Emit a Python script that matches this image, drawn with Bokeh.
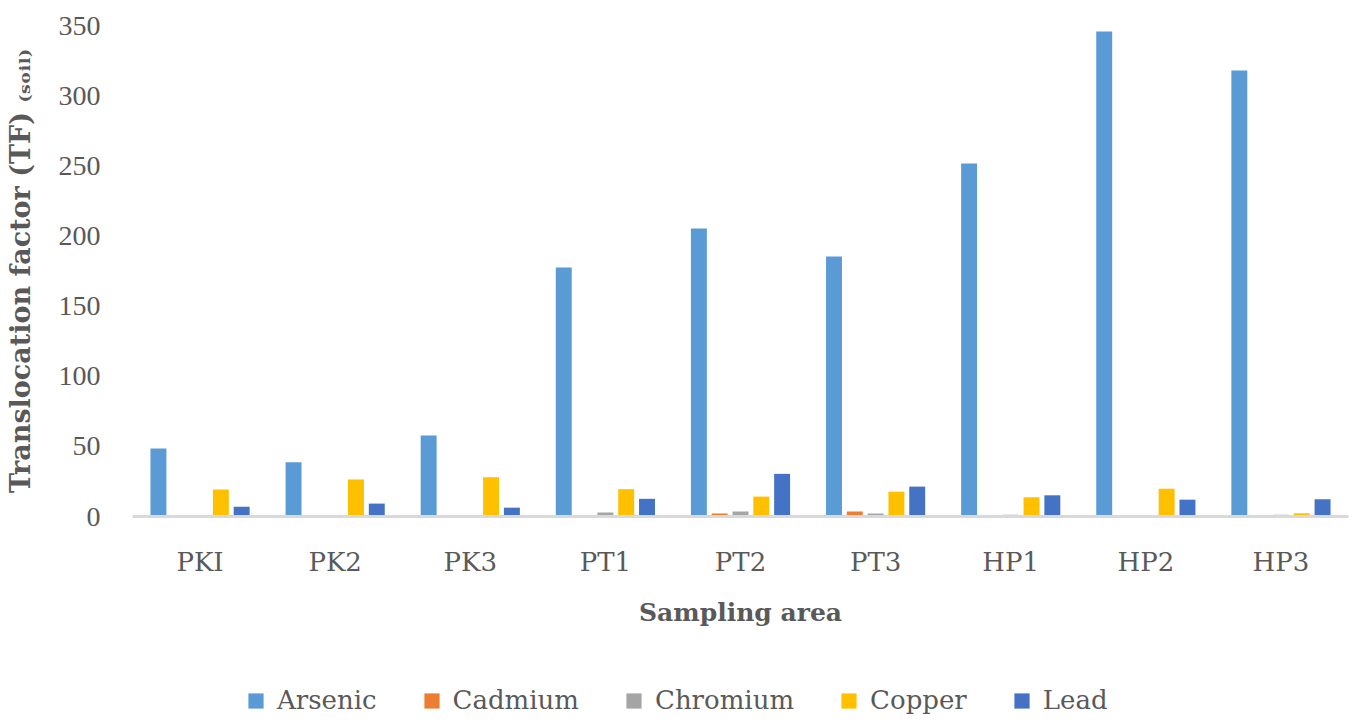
from bokeh.plotting import figure
from bokeh.models import (FactorRange, Range1d, FixedTicker, Legend, LegendItem,
                          ColumnDataSource, BoxAnnotation)
from bokeh.transform import dodge
from bokeh.layouts import column
from bokeh.embed import file_html
from bokeh.resources import INLINE

categories = ["PKI", "PK2", "PK3", "PT1", "PT2", "PT3", "HP1", "HP2", "HP3"]
series_names = ["Arsenic", "Cadmium", "Chromium", "Copper", "Lead"]
arsenic = [48.5, 38.7, 57.7, 177.5, 205.3, 185.3, 251.6, 345.7, 317.9]
cadmium = [0.1, 0.1, 0.1, 1.0, 2.1, 3.6, 0.9, 0.7, 0.7]
chromium = [0.6, 0.6, 0.5, 2.9, 3.6, 2.1, 1.2, 0.5, 1.2]
copper = [19.3, 26.4, 28.0, 19.5, 14.2, 17.7, 13.7, 19.8, 2.4]
lead = [6.9, 9.2, 6.3, 12.6, 30.4, 21.3, 15.1, 12.0, 12.3]
y_ticks = [0, 50, 100, 150, 200, 250, 300, 350]

colors = ["#5B9BD5", "#ED7D31", "#A5A5A5", "#FFC000", "#4472C4"]
TEXT = "#595959"
FONT = "DejaVu Serif"
NUMFONT = "Liberation Serif"

source = ColumnDataSource(dict(cat=categories, Arsenic=arsenic, Cadmium=cadmium,
                               Chromium=chromium, Copper=copper, Lead=lead))

p = figure(x_range=FactorRange(*categories), y_range=Range1d(0, 350),
           width=1350, height=650, output_backend="svg", toolbar_location=None,
           min_border_left=132, min_border_right=2, min_border_top=25,
           min_border_bottom=134)
p.outline_line_color = None
p.xgrid.grid_line_color = None
p.ygrid.grid_line_color = None

offsets = [-0.308, -0.154, 0.0, 0.154, 0.308]
for name, col, off in zip(series_names, colors, offsets):
    p.vbar(x=dodge("cat", off, range=p.x_range), top=name, width=0.118,
           source=source, fill_color=col, line_color=None)

# y axis
p.yaxis.ticker = FixedTicker(ticks=y_ticks)
p.yaxis.axis_line_color = None
p.yaxis.major_tick_line_color = None
p.yaxis.major_tick_out = 0
p.yaxis.minor_tick_line_color = None
p.yaxis.minor_tick_out = 0
p.yaxis.major_label_standoff = 32
p.yaxis.major_label_text_font = NUMFONT
p.yaxis.major_label_text_font_size = "28px"
p.yaxis.major_label_text_color = TEXT
p.yaxis.axis_label = "Translocation factor (TF) \u208d\u209b\u2092\u1d62\u2097\u208e"
p.yaxis.axis_label_standoff = 20
p.yaxis.axis_label_text_font = FONT
p.yaxis.axis_label_text_font_style = "bold"
p.yaxis.axis_label_text_font_size = "27px"
p.yaxis.axis_label_text_color = TEXT

# x axis
p.xaxis.axis_line_color = "#D9D9D9"
p.xaxis.axis_line_width = 3
p.xaxis.major_tick_line_color = None
p.xaxis.major_tick_out = 0
p.xaxis.minor_tick_line_color = None
p.xaxis.minor_tick_out = 0
p.xaxis.major_label_standoff = 30
p.xaxis.major_label_text_font = FONT
p.xaxis.major_label_text_font_size = "26px"
p.xaxis.major_label_text_color = TEXT
p.xaxis.axis_label = "Sampling area"
p.xaxis.axis_label_standoff = 18
p.xaxis.axis_label_text_font = FONT
p.xaxis.axis_label_text_font_style = "bold"
p.xaxis.axis_label_text_font_size = "25px"
p.xaxis.axis_label_text_color = TEXT

# legend strip below the chart; proxy bars are hidden under a white cover
lf = figure(x_range=p.x_range, y_range=Range1d(1000, 2000),
            width=1350, height=72, output_backend="svg", toolbar_location=None,
            x_axis_type=None, y_axis_type=None,
            min_border_left=0, min_border_right=0, min_border_top=0, min_border_bottom=0)
lf.outline_line_color = None
lf.xgrid.grid_line_color = None
lf.ygrid.grid_line_color = None
proxies = []
for name, col, off in zip(series_names, colors, offsets):
    proxies.append(lf.vbar(x=dodge("cat", off, range=lf.x_range), top=name, bottom=name,
                           width=0.118, source=source, fill_color=col, line_color=None))

lf.add_layout(BoxAnnotation(fill_color="white", fill_alpha=1.0, line_color=None))

legend = Legend(items=[LegendItem(label=n, renderers=[r]) for n, r in zip(series_names, proxies)],
                orientation="horizontal", location=(114, 7),
                label_text_font=FONT, label_text_font_size="26px", label_text_color=TEXT,
                glyph_width=19, glyph_height=19, label_standoff=12, spacing=45,
                border_line_color=None, background_fill_alpha=0, padding=3, margin=0)
lf.add_layout(legend, "center")

layout = column(p, lf, spacing=0)
open("out.html", "w").write(file_html(layout, INLINE))
